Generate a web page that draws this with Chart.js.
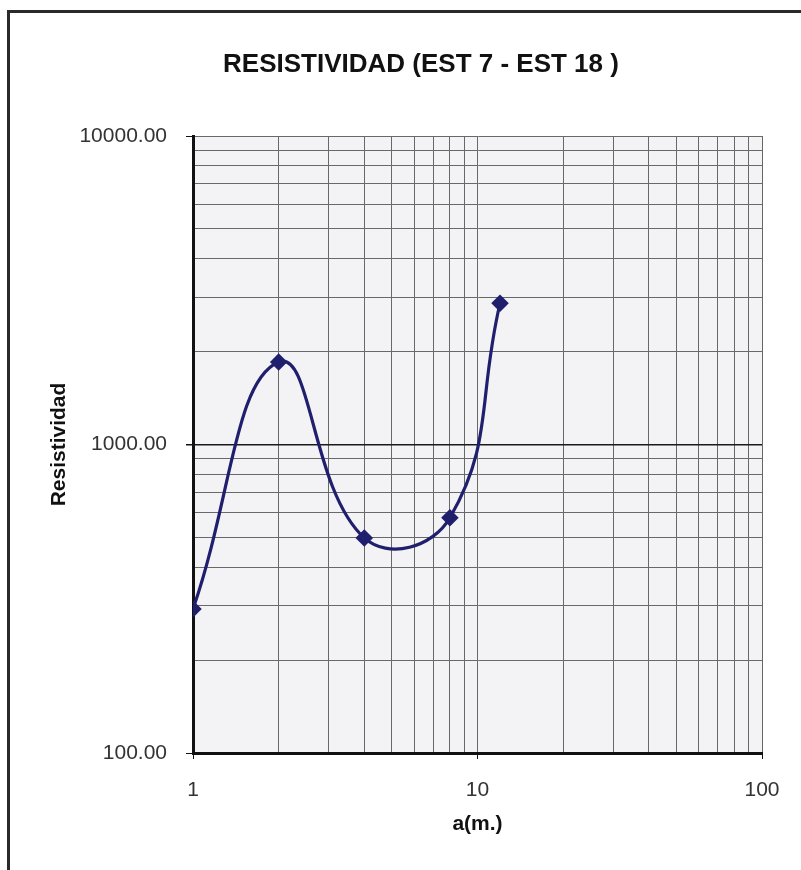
<!DOCTYPE html>
<html>
<head>
<meta charset="utf-8">
<script src="https://cdn.jsdelivr.net/npm/chart.js@4/dist/chart.umd.min.js"></script>
<style>
  html, body { margin: 0; padding: 0; background: #fff; }
  #wrap { position: relative; width: 801px; height: 870px; overflow: hidden; }
  #frame { position: absolute; left: 7px; top: 10px; width: 820px; height: 900px;
           border-left: 3px solid #2a2a2a; border-top: 3px solid #2a2a2a; }
  #chart { position: absolute; left: 0; top: 0; }
</style>
</head>
<body>
<div id="wrap">
  <div id="frame"></div>
  <canvas id="chart" width="801" height="870"></canvas>
</div>
<script>
const TITLE = "RESISTIVIDAD (EST 7 - EST 18 )";
const X_TITLE = "a(m.)";
const Y_TITLE = "Resistividad";

// measured points
const spacing = [1, 2, 4, 8, 12];
const resistivity = [293, 1850, 498, 579, 2870];

// grid lines and labelled ticks
const xGrid = [1, 2, 3, 4, 5, 6, 7, 8, 9, 10, 20, 30, 40, 50, 60, 70, 80, 90, 100];
const yGrid = [100, 200, 300, 400, 500, 600, 700, 800, 900,
               1000, 2000, 3000, 4000, 5000, 6000, 7000, 8000, 9000, 10000];
const xLabelled = [1, 10, 100];
const yLabelled = [100, 1000, 10000];

const FONT = '"Liberation Sans", Arial, sans-serif';
const LINE = "#1f1f6e";

const plotBackground = {
  id: "plotBackground",
  beforeDraw(chart) {
    const { ctx, chartArea: a } = chart;
    ctx.save();
    ctx.fillStyle = "#f3f2f5";
    ctx.fillRect(a.left, a.top, a.right - a.left, a.bottom - a.top);
    ctx.restore();
  }
};

const titleText = {
  id: "titleText",
  afterDraw(chart) {
    const ctx = chart.ctx;
    ctx.save();
    ctx.font = "bold 26px " + FONT;
    ctx.fillStyle = "#111";
    ctx.textAlign = "center";
    ctx.textBaseline = "middle";
    ctx.fillText(TITLE, 421, 65);
    ctx.restore();
  }
};

function isLabelled(list, v) {
  return list.some(x => Math.abs(x - v) < 1e-9);
}

new Chart(document.getElementById("chart"), {
  type: "line",
  data: {
    datasets: [{
      data: spacing.map((x, i) => ({ x, y: resistivity[i] })),
      borderColor: LINE,
      backgroundColor: LINE,
      borderWidth: 3.2,
      tension: 0.45,
      pointStyle: "rectRot",
      pointRadius: 6.5,
      pointHoverRadius: 6.5,
      fill: false
    }]
  },
  options: {
    responsive: false,
    animation: false,
    layout: { padding: { top: 136, right: 39, left: 0, bottom: 0 } },
    plugins: {
      legend: { display: false },
      title: { display: false },
      tooltip: { enabled: false }
    },
    scales: {
      x: {
        type: "logarithmic",
        min: 1,
        max: 100,
        afterBuildTicks(axis) {
          axis.ticks = xGrid.map(v => ({ value: v, major: isLabelled(xLabelled, v) }));
        },
        afterFit(axis) { axis.height = 117; },
        ticks: {
          autoSkip: false,
          maxRotation: 0,
          padding: 19,
          color: "#333",
          font: { family: FONT, size: 21 },
          callback: v => isLabelled(xLabelled, v) ? String(v) : ""
        },
        grid: {
          color: "#686868",
          lineWidth: 1,
          tickLength: 6,
          tickColor: c => (c.tick && isLabelled(xLabelled, c.tick.value)) ? "#111" : "rgba(0,0,0,0)"
        },
        border: { display: true, color: "#111", width: 3 },
        title: {
          display: true,
          text: X_TITLE,
          color: "#111",
          font: { family: FONT, size: 21, weight: "bold" },
          padding: { top: 0, bottom: 33 }
        }
      },
      y: {
        type: "logarithmic",
        min: 100,
        max: 10000,
        afterBuildTicks(axis) {
          axis.ticks = yGrid.map(v => ({ value: v, major: isLabelled(yLabelled, v) }));
        },
        afterFit(axis) { axis.width = 193; },
        ticks: {
          autoSkip: false,
          padding: 19,
          color: "#333",
          font: { family: FONT, size: 21 },
          callback: v => isLabelled(yLabelled, v) ? v.toFixed(2) : ""
        },
        grid: {
          color: c => (c.tick && c.tick.value === 1000) ? "#1a1a1a" : "#686868",
          lineWidth: c => (c.tick && c.tick.value === 1000) ? 1.5 : 1,
          tickLength: 7,
          tickColor: c => (c.tick && isLabelled(yLabelled, c.tick.value)) ? "#111" : "rgba(0,0,0,0)"
        },
        border: { display: true, color: "#111", width: 3 },
        title: {
          display: true,
          text: Y_TITLE,
          color: "#111",
          font: { family: FONT, size: 21, weight: "bold" },
          padding: { top: 47, bottom: 0 }
        }
      }
    }
  },
  plugins: [plotBackground, titleText]
});
</script>
</body>
</html>
